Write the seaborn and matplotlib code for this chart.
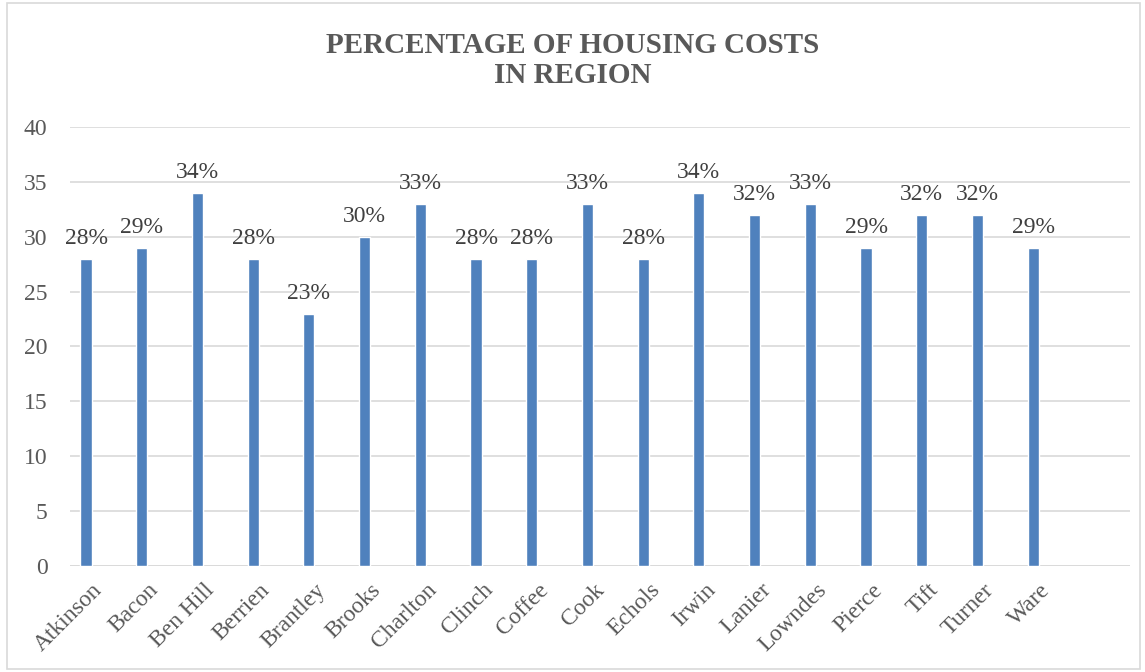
import matplotlib.pyplot as plt
import matplotlib.transforms as mtransforms
import seaborn as sns
import pandas as pd
from matplotlib.patches import Rectangle

# county housing cost share (%)
counties = ["Atkinson", "Bacon", "Ben Hill", "Berrien", "Brantley", "Brooks",
            "Charlton", "Clinch", "Coffee", "Cook", "Echols", "Irwin", "Lanier",
            "Lowndes", "Pierce", "Tift", "Turner", "Ware"]
pct = [28, 29, 34, 28, 23, 30, 33, 28, 28, 33, 28, 34, 32, 33, 29, 32, 32, 29]

df = pd.DataFrame({"county": counties, "pct": pct})

sns.set_style("white")
plt.rcParams['font.family'] = ['Liberation Serif', 'DejaVu Serif']

fig = plt.figure(figsize=(11.45, 6.72), dpi=100)
ax = fig.add_axes([0.061, 0.158, 0.926, 0.653])

sns.barplot(data=df, x="county", y="pct", color="#4F81BD", saturation=1,
            width=0.2, ax=ax)

for i, v in enumerate(pct):
    ax.text(i, v + 0.9, f"{v}%", ha="center", va="bottom", fontsize=17, color="#404040")

ax.set_ylim(0, 40)
ax.set_xlim(-0.29, 18.74)
ax.set_yticks(range(0, 41, 5))
ax.yaxis.grid(True, color="#D9D9D9", linewidth=1.2)
ax.set_axisbelow(True)
for s in ax.spines.values():
    s.set_visible(False)
ax.axhline(0, color="#D9D9D9", linewidth=1.2, zorder=0)
ax.tick_params(axis="y", labelsize=17, labelcolor="#595959", length=0, pad=16)
ax.tick_params(axis="x", labelsize=17, labelcolor="#595959", length=0, pad=4)
shift = mtransforms.ScaledTranslation(0.06, -0.08, fig.dpi_scale_trans)
for lab in ax.get_xticklabels():
    lab.set_rotation(45)
    lab.set_ha("right")
    lab.set_rotation_mode("anchor")
    lab.set_transform(lab.get_transform() + shift)
ax.set_xlabel("")
ax.set_ylabel("")

fig.text(0.5, 0.91, "PERCENTAGE OF HOUSING COSTS\nIN REGION", ha="center", va="center",
         fontsize=21, fontweight="bold", color="#595959", linespacing=1.1)

fig.patches.append(Rectangle((0.006, 0.004), 0.99, 0.992, transform=fig.transFigure,
                             fill=False, edgecolor="#D9D9D9", linewidth=1.2))

fig.savefig("out.png", dpi=100)
